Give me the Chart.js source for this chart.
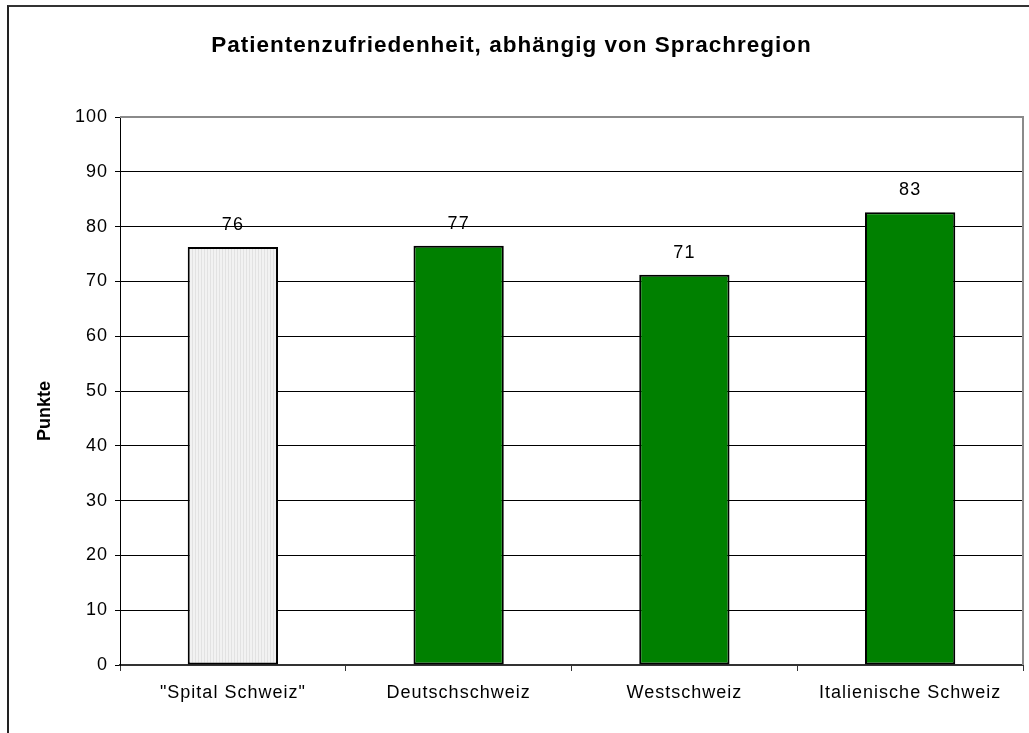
<!DOCTYPE html>
<html>
<head>
<meta charset="utf-8">
<script src="https://cdn.jsdelivr.net/npm/chart.js@4.4.1/dist/chart.umd.min.js"></script>
<style>
  html, body { margin: 0; padding: 0; background: #fff; }
  #frame { position: absolute; left: 7px; top: 5px; width: 1030px; height: 740px;
           border-top: 2px solid #333; border-left: 2px solid #222; }
  #wrap { position: absolute; left: 0; top: 0; width: 1029px; height: 733px; }
</style>
</head>
<body>
<div id="frame"></div>
<div id="wrap"><canvas id="chart" width="1029" height="733"></canvas></div>
<script>
const categories = ['"Spital Schweiz"', 'Deutschschweiz', 'Westschweiz', 'Italienische Schweiz'];
const punkte = [76.3, 76.5, 71.2, 82.6];
const yTicks = [0, 10, 20, 30, 40, 50, 60, 70, 80, 90, 100];
const FONT = '"Liberation Sans", Arial, sans-serif';

// light gray striped fill for the Swiss total
const pc = document.createElement('canvas');
pc.width = 3; pc.height = 4;
const pctx = pc.getContext('2d');
pctx.fillStyle = '#f2f2f2';
pctx.fillRect(0, 0, 3, 4);
pctx.fillStyle = '#e2e2e2';
pctx.fillRect(0, 0, 1, 4);
const stripes = pctx.createPattern(pc, 'repeat');

// the old chart text runs a bit wider than Arial
const spacing = {
    id: 'spacing',
    beforeLayout(chart) { chart.ctx.letterSpacing = '1px'; },
    beforeDraw(chart) { chart.ctx.letterSpacing = '1px'; }
};

const valueLabels = {
    id: 'valueLabels',
    afterDatasetsDraw(chart) {
        const ctx = chart.ctx;
        const meta = chart.getDatasetMeta(0);
        ctx.save();
        ctx.font = '18px ' + FONT;
        ctx.fillStyle = '#000';
        ctx.textAlign = 'center';
        ctx.textBaseline = 'alphabetic';
        meta.data.forEach((bar, i) => {
            ctx.fillText(String(Math.round(punkte[i])), bar.x, bar.y - 17);
        });
        ctx.restore();
    }
};

// y title sits a little below the middle in the original
const yTitle = {
    id: 'yTitle',
    afterDraw(chart) {
        const ctx = chart.ctx;
        ctx.save();
        ctx.letterSpacing = '0px';
        ctx.translate(45, 411);
        ctx.rotate(-Math.PI / 2);
        ctx.font = 'bold 18px ' + FONT;
        ctx.fillStyle = '#000';
        ctx.textAlign = 'center';
        ctx.textBaseline = 'middle';
        ctx.fillText('Punkte', 0, 0);
        ctx.restore();
    }
};

const plotBorder = {
    id: 'plotBorder',
    beforeDatasetsDraw(chart) {
        const a = chart.chartArea, ctx = chart.ctx;
        ctx.save();
        ctx.strokeStyle = '#8a8a8a';
        ctx.lineWidth = 2;
        ctx.beginPath();
        ctx.moveTo(a.left, a.top);
        ctx.lineTo(a.right, a.top);
        ctx.lineTo(a.right, a.bottom);
        ctx.stroke();
        ctx.restore();
    }
};

const ctx = document.getElementById('chart').getContext('2d');
const chart = new Chart(ctx, {
    type: 'bar',
    data: {
        labels: categories,
        datasets: [{
            label: 'Punkte',
            data: punkte,
            backgroundColor: [stripes, '#008000', '#008000', '#008000'],
            borderColor: '#000',
            borderWidth: 2,
            borderSkipped: false,
            barPercentage: 0.4,
            categoryPercentage: 1.0
        }]
    },
    options: {
        responsive: false,
        animation: false,
        layout: { padding: { left: 0, right: 6, top: 0, bottom: 0 } },
        plugins: {
            legend: { display: false },
            tooltip: { enabled: false },
            title: {
                display: true,
                text: 'Patientenzufriedenheit, abhängig von Sprachregion',
                color: '#000',
                font: { family: FONT, size: 22.5, weight: 'bold', lineHeight: 1.2 },
                padding: { top: 32, bottom: 58 }
            }
        },
        scales: {
            x: {
                grid: { display: true, drawOnChartArea: false, color: '#000', tickLength: 6, tickColor: '#333', offset: true },
                border: { display: true, color: '#333', width: 2 },
                ticks: {
                    color: '#000',
                    padding: 11,
                    maxRotation: 0,
                    font: { family: FONT, size: 18 }
                },
                afterFit(scale) { scale.height = 68; }
            },
            y: {
                min: 0,
                max: 100,
                afterBuildTicks(scale) { scale.ticks = yTicks.map(v => ({ value: v })); },
                grid: {
                    color: c => c.tick && c.tick.value === 100 ? '#8a8a8a' : '#000',
                    lineWidth: 1,
                    tickLength: 5,
                    tickColor: '#000'
                },
                border: { display: true, color: '#000', width: 1 },
                ticks: {
                    color: '#000',
                    padding: 7,
                    font: { family: FONT, size: 18 }
                },
                afterFit(scale) { scale.width = 120; }
            }
        }
    },
    plugins: [spacing, plotBorder, valueLabels, yTitle]
});
</script>
</body>
</html>
